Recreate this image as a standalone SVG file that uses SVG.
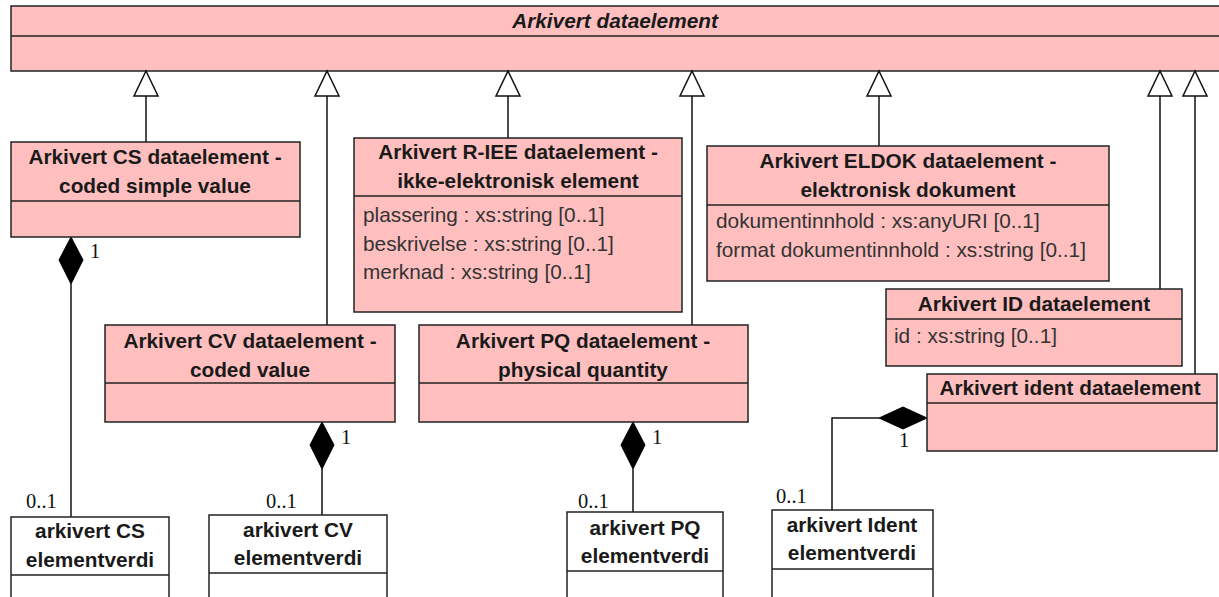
<svg xmlns="http://www.w3.org/2000/svg" width="1219" height="597" viewBox="0 0 1219 597">
<style>
.cls{fill:#ffbfbf;stroke:#222;stroke-width:1.5}
.val{fill:#fff;stroke:#222;stroke-width:1.5}
.div{stroke:#222;stroke-width:1.5}
.nm{font-family:"Liberation Sans",Arial,sans-serif;font-weight:bold;font-size:20.8px;fill:#1a1a1a;text-anchor:middle}
.at{font-family:"Liberation Sans",Arial,sans-serif;font-size:20.8px;fill:#333}
.mul{font-family:"Liberation Serif","Times New Roman",serif;font-size:20.5px;fill:#111}
.ln{fill:none;stroke:#111;stroke-width:1.5}
.tri{fill:#fff;stroke:#111;stroke-width:1.5}
.dia{fill:#000;stroke:#000;stroke-width:1}
</style>
<rect width="1219" height="597" fill="#fff"/>

<g id="arkivert-dataelement">
<rect class="cls" x="11" y="6" width="1215" height="65"/>
<line class="div" x1="11" y1="36" x2="1226" y2="36"/>
<text class="nm" x="615" y="28" font-style="italic">Arkivert dataelement</text>
</g>

<g id="connectors">
<path class="ln" d="M146,142 V96"/>
<path class="tri" d="M146,71 L158,96 L134,96 Z"/>
<path class="ln" d="M327,325 V96"/>
<path class="tri" d="M327,71 L339,96 L315,96 Z"/>
<path class="ln" d="M508,138 V96"/>
<path class="tri" d="M508,71 L520,96 L496,96 Z"/>
<path class="ln" d="M692,325 V96"/>
<path class="tri" d="M692,71 L704,96 L680,96 Z"/>
<path class="ln" d="M879,146 V96"/>
<path class="tri" d="M879,71 L891,96 L867,96 Z"/>
<path class="ln" d="M1160,289 V96"/>
<path class="tri" d="M1160,71 L1172,96 L1148,96 Z"/>
<path class="ln" d="M1195,374 V96"/>
<path class="tri" d="M1195,71 L1207,96 L1183,96 Z"/>

<path class="ln" d="M71,284 V517"/>
<path class="dia" d="M71,237 L83,260 L71,284 L59,260 Z"/>
<text class="mul" x="90" y="258">1</text>
<text class="mul" x="26" y="508">0..1</text>

<path class="ln" d="M322,469 V515"/>
<path class="dia" d="M322,422 L334,445 L322,469 L310,445 Z"/>
<text class="mul" x="341" y="444">1</text>
<text class="mul" x="266" y="508">0..1</text>

<path class="ln" d="M633,469 V512"/>
<path class="dia" d="M633,422 L645,445 L633,469 L621,445 Z"/>
<text class="mul" x="652" y="444">1</text>
<text class="mul" x="578" y="508">0..1</text>

<path class="ln" d="M879,418 H832 V510"/>
<path class="dia" d="M927,418 L903,429 L879,418 L903,407 Z"/>
<text class="mul" x="899" y="447">1</text>
<text class="mul" x="776" y="503">0..1</text>
</g>

<g id="cs-dataelement">
<rect class="cls" x="11" y="142" width="289" height="95"/>
<line class="div" x1="11" y1="201" x2="300" y2="201"/>
<text class="nm" x="155" y="164">Arkivert CS dataelement -</text>
<text class="nm" x="155" y="193">coded simple value</text>
</g>

<g id="riee-dataelement">
<rect class="cls" x="354" y="138" width="328" height="174"/>
<line class="div" x1="354" y1="196" x2="682" y2="196"/>
<text class="nm" x="518" y="159">Arkivert R-IEE dataelement -</text>
<text class="nm" x="518" y="188">ikke-elektronisk element</text>
<text class="at" x="363" y="222">plassering : xs:string [0..1]</text>
<text class="at" x="363" y="251">beskrivelse : xs:string [0..1]</text>
<text class="at" x="363" y="279">merknad : xs:string [0..1]</text>
</g>

<g id="eldok-dataelement">
<rect class="cls" x="707" y="146" width="402" height="135"/>
<line class="div" x1="707" y1="205" x2="1109" y2="205"/>
<text class="nm" x="908" y="168">Arkivert ELDOK dataelement -</text>
<text class="nm" x="908" y="197">elektronisk dokument</text>
<text class="at" x="716" y="228">dokumentinnhold : xs:anyURI [0..1]</text>
<text class="at" x="716" y="257">format dokumentinnhold : xs:string [0..1]</text>
</g>

<g id="id-dataelement">
<rect class="cls" x="886" y="289" width="296" height="77"/>
<line class="div" x1="886" y1="319" x2="1182" y2="319"/>
<text class="nm" x="1034" y="311">Arkivert ID dataelement</text>
<text class="at" x="894" y="343">id : xs:string [0..1]</text>
</g>

<g id="ident-dataelement">
<rect class="cls" x="927" y="374" width="290" height="77"/>
<line class="div" x1="927" y1="403" x2="1217" y2="403"/>
<text class="nm" x="1070" y="395">Arkivert ident dataelement</text>
</g>

<g id="cv-dataelement">
<rect class="cls" x="105" y="325" width="290" height="97"/>
<line class="div" x1="105" y1="383" x2="395" y2="383"/>
<text class="nm" x="250" y="348">Arkivert CV dataelement -</text>
<text class="nm" x="250" y="377">coded value</text>
</g>

<g id="pq-dataelement">
<rect class="cls" x="419" y="325" width="329" height="97"/>
<line class="div" x1="419" y1="383" x2="748" y2="383"/>
<text class="nm" x="583" y="348">Arkivert PQ dataelement -</text>
<text class="nm" x="583" y="377">physical quantity</text>
</g>

<g id="cs-elementverdi">
<rect class="val" x="11" y="517" width="158" height="100"/>
<line class="div" x1="11" y1="575" x2="169" y2="575"/>
<text class="nm" x="90" y="538">arkivert CS</text>
<text class="nm" x="90" y="567">elementverdi</text>
</g>

<g id="cv-elementverdi">
<rect class="val" x="209" y="515" width="178" height="100"/>
<line class="div" x1="209" y1="573" x2="387" y2="573"/>
<text class="nm" x="298" y="537">arkivert CV</text>
<text class="nm" x="298" y="565">elementverdi</text>
</g>

<g id="pq-elementverdi">
<rect class="val" x="567" y="512" width="156" height="100"/>
<line class="div" x1="567" y1="571" x2="723" y2="571"/>
<text class="nm" x="645" y="535">arkivert PQ</text>
<text class="nm" x="645" y="563">elementverdi</text>
</g>

<g id="ident-elementverdi">
<rect class="val" x="772" y="510" width="161" height="100"/>
<line class="div" x1="772" y1="569" x2="933" y2="569"/>
<text class="nm" x="852" y="532">arkivert Ident</text>
<text class="nm" x="852" y="560">elementverdi</text>
</g>
</svg>
